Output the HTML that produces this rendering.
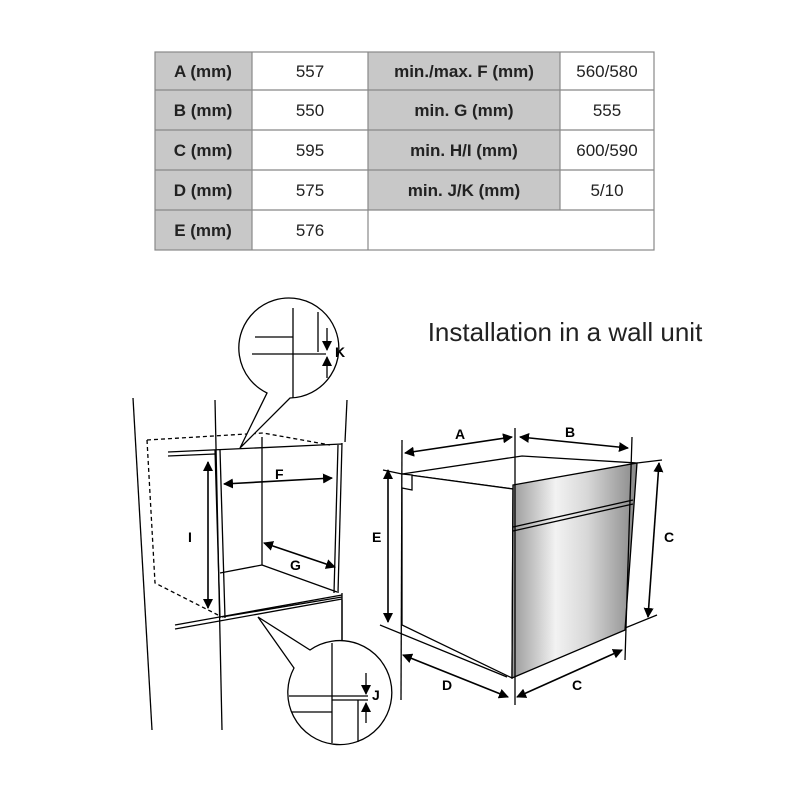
<!DOCTYPE html>
<html><head><meta charset="utf-8"><style>
body{margin:0;background:#fff;width:800px;height:800px;overflow:hidden;font-family:"Liberation Sans",sans-serif}
</style></head><body>
<svg width="800" height="800" viewBox="0 0 800 800" xmlns="http://www.w3.org/2000/svg">
<defs>
<marker id="ar" viewBox="0 0 10 10" refX="9" refY="5" markerWidth="10" markerHeight="10" markerUnits="userSpaceOnUse" orient="auto-start-reverse"><path d="M0,0L10,5L0,10z" fill="#000"/></marker>
<linearGradient id="steel" x1="0" y1="0" x2="1" y2="0">
<stop offset="0" stop-color="#9a9a9a"/><stop offset="0.35" stop-color="#f2f2f2"/><stop offset="0.6" stop-color="#d8d8d8"/><stop offset="1" stop-color="#888"/></linearGradient>
</defs>
<g font-size="17" fill="#222" text-anchor="middle" font-family="Liberation Sans,sans-serif">
<rect x="155" y="52" width="97" height="198" fill="#c8c8c8"/>
<rect x="368" y="52" width="192" height="158" fill="#c8c8c8"/>
<g stroke="#888" stroke-width="1.2" fill="none">
<rect x="155" y="52" width="499" height="198"/>
<line x1="155" y1="90" x2="654" y2="90"/><line x1="155" y1="130" x2="654" y2="130"/>
<line x1="155" y1="170" x2="654" y2="170"/><line x1="155" y1="210" x2="654" y2="210"/>
<line x1="252" y1="52" x2="252" y2="250"/><line x1="368" y1="52" x2="368" y2="250"/>
<line x1="560" y1="52" x2="560" y2="210"/>
</g>
<g font-weight="bold">
<text x="203" y="77">A (mm)</text><text x="203" y="116">B (mm)</text><text x="203" y="156">C (mm)</text><text x="203" y="196">D (mm)</text><text x="203" y="236">E (mm)</text>
<text x="464" y="77">min./max. F (mm)</text><text x="464" y="116">min. G (mm)</text><text x="464" y="156">min. H/I (mm)</text><text x="464" y="196">min. J/K (mm)</text>
</g>
<text x="310" y="77">557</text><text x="310" y="116">550</text><text x="310" y="156">595</text><text x="310" y="196">575</text><text x="310" y="236">576</text>
<text x="607" y="77">560/580</text><text x="607" y="116">555</text><text x="607" y="156">600/590</text><text x="607" y="196">5/10</text>
</g>
<text x="565" y="341" font-size="26" text-anchor="middle" fill="#222">Installation in a wall unit</text>

<g stroke="#000" stroke-width="1.3" fill="none">
<line x1="133" y1="398" x2="152" y2="730"/>
<line x1="215" y1="400" x2="222" y2="730"/>
<line x1="347" y1="400" x2="345" y2="442"/>
<line x1="342" y1="593" x2="342" y2="730"/>
<line x1="168" y1="452" x2="342" y2="444"/><line x1="168" y1="456" x2="215" y2="454"/>
<line x1="215" y1="450" x2="220" y2="618"/><line x1="220" y1="450" x2="225" y2="618"/>
<line x1="342" y1="443" x2="338" y2="593"/><line x1="338" y1="445" x2="334" y2="593"/>
<line x1="175" y1="625" x2="342" y2="595"/><line x1="175" y1="629" x2="342" y2="599"/>
<line x1="222" y1="617" x2="342" y2="597"/>
<line x1="220" y1="573" x2="262" y2="565"/><line x1="262" y1="565" x2="337" y2="592"/>
<line x1="262" y1="437" x2="262" y2="565"/>
<path d="M147,440 L155,583 L218,615 M147,440 L263,433 L330,445" stroke-dasharray="4,3"/>
<line x1="208" y1="462" x2="208" y2="608" marker-start="url(#ar)" marker-end="url(#ar)" stroke-width="1.6"/>
<line x1="224" y1="484" x2="332" y2="478" marker-start="url(#ar)" marker-end="url(#ar)" stroke-width="1.6"/>
<line x1="264" y1="543" x2="335" y2="567" marker-start="url(#ar)" marker-end="url(#ar)" stroke-width="1.6"/>
<path d="M240,448 L267,393 A50,50 0 1 1 290,398 Z" fill="#fff"/>
<line x1="293" y1="308" x2="293" y2="398"/>
<line x1="255" y1="337" x2="293" y2="337"/>
<line x1="252" y1="354" x2="326" y2="354"/>
<line x1="318" y1="312" x2="318" y2="352"/>
<line x1="327" y1="328" x2="327" y2="350" marker-end="url(#ar)"/>
<line x1="327" y1="378" x2="327" y2="357" marker-end="url(#ar)"/>
<path d="M258,617 L294,668 A52,52 0 1 0 310,650 Z" fill="#fff"/>
<line x1="342" y1="600" x2="342" y2="640"/>
<line x1="332" y1="643" x2="332" y2="743"/>
<line x1="289" y1="696" x2="368" y2="696"/>
<line x1="332" y1="700" x2="368" y2="700"/>
<line x1="292" y1="712" x2="332" y2="712"/>
<line x1="358" y1="700" x2="358" y2="742"/>
<line x1="366" y1="673" x2="366" y2="694" marker-end="url(#ar)"/>
<line x1="366" y1="723" x2="366" y2="703" marker-end="url(#ar)"/>
</g>
<g font-weight="bold" font-size="14" fill="#000">
<text x="275" y="479">F</text><text x="290" y="570">G</text><text x="188" y="542">I</text>
<text x="335" y="357">K</text><text x="372" y="700">J</text>
</g>

<g stroke="#000" stroke-width="1.3" fill="none">
<path d="M402,474 L522,456 L637,463 L513,489 Z" fill="#fff"/>
<path d="M402,474 L513,489 L512,678 L402,625 Z" fill="#fff"/>
<path d="M402,474 L412,475 L412,490 L402,488" fill="#fff"/>
<path d="M513,485 L637,463 L625,630 L512,678 Z" fill="url(#steel)"/>
<line x1="513" y1="527" x2="633" y2="500"/><line x1="513" y1="531" x2="633" y2="504"/>
<line x1="402" y1="440" x2="401" y2="700"/>
<line x1="515" y1="428" x2="515" y2="705"/>
<line x1="632" y1="437" x2="625" y2="660"/>
<line x1="383" y1="470" x2="402" y2="474"/>
<line x1="637" y1="463" x2="662" y2="460"/>
<line x1="625" y1="628" x2="657" y2="615"/>
<line x1="380" y1="625" x2="507" y2="677"/>
<g stroke-width="1.6">
<line x1="405" y1="453" x2="512" y2="437" marker-start="url(#ar)" marker-end="url(#ar)"/>
<line x1="520" y1="437" x2="628" y2="448" marker-start="url(#ar)" marker-end="url(#ar)"/>
<line x1="388" y1="470" x2="388" y2="622" marker-start="url(#ar)" marker-end="url(#ar)"/>
<line x1="659" y1="463" x2="648" y2="617" marker-start="url(#ar)" marker-end="url(#ar)"/>
<line x1="403" y1="655" x2="508" y2="697" marker-start="url(#ar)" marker-end="url(#ar)"/>
<line x1="517" y1="697" x2="622" y2="650" marker-start="url(#ar)" marker-end="url(#ar)"/>
</g>
</g>
<g font-weight="bold" font-size="14" fill="#000">
<text x="455" y="439">A</text><text x="565" y="437">B</text><text x="372" y="542">E</text>
<text x="664" y="542">C</text><text x="442" y="690">D</text><text x="572" y="690">C</text>
</g>
</svg>
</body></html>
